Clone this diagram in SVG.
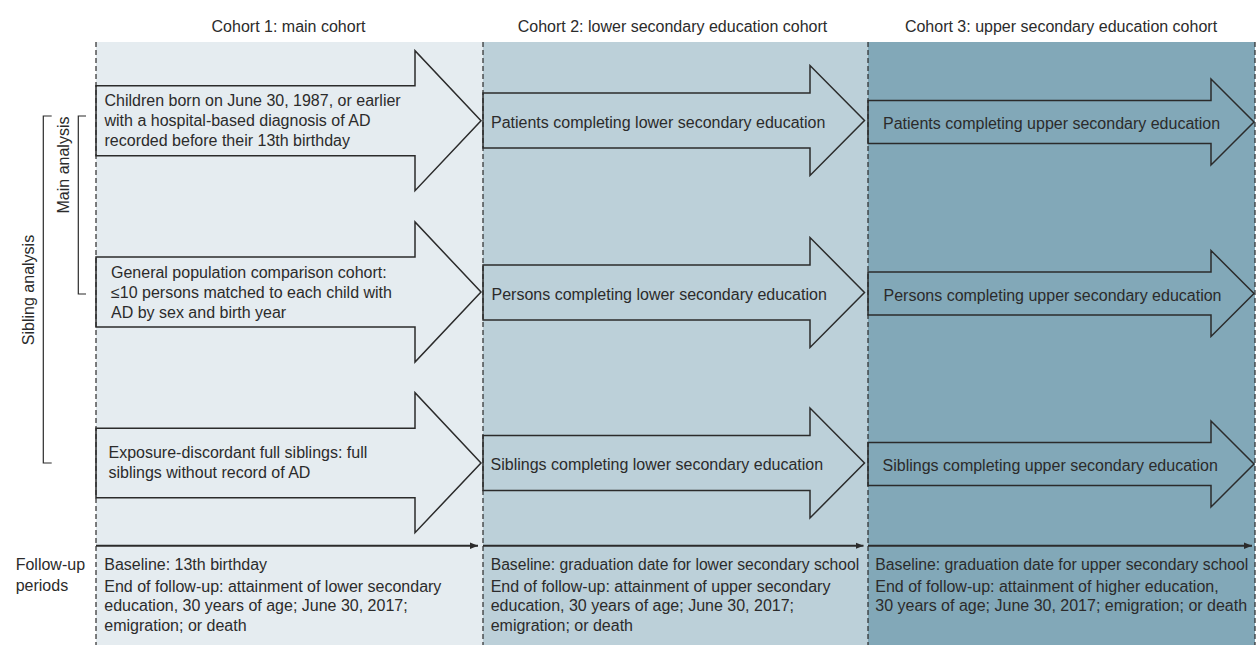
<svg xmlns="http://www.w3.org/2000/svg" width="1257" height="661" viewBox="0 0 1257 661">
<style>
  text { font-family: "Liberation Sans", Arial, sans-serif; font-size: 16px; fill: #2b2b2b; }
  .hdr { text-anchor: middle; }
  .p1 { fill: #e5ecf0; }
  .p2 { fill: #bcd0d9; }
  .p3 { fill: #82a8b8; }
  .arrow { stroke: #2b2b2b; stroke-width: 1.5; stroke-linejoin: miter; }
  .dash { stroke: #2b2b2b; stroke-width: 1.2; stroke-dasharray: 5 3; fill: none; }
  .brk { stroke: #2b2b2b; stroke-width: 1.2; fill: none; }
  .fu { stroke: #2b2b2b; stroke-width: 2; fill: none; marker-end: url(#ah); }
</style>
<defs>
  <marker id="ah" markerWidth="10" markerHeight="8" refX="8" refY="4" orient="auto" markerUnits="userSpaceOnUse">
    <path d="M0,0.8 L8,4 L0,7.2 Z" fill="#2b2b2b"/>
  </marker>
</defs>

<!-- panels -->
<g id="panels">
  <rect class="p1" x="96" y="42" width="387" height="603"/>
  <rect class="p2" x="483" y="42" width="385" height="603"/>
  <rect class="p3" x="868" y="42" width="387" height="603"/>
</g>

<!-- headers -->
<g id="headers">
  <text class="hdr" x="288.5" y="32">Cohort 1: main cohort</text>
  <text class="hdr" x="672.5" y="32">Cohort 2: lower secondary education cohort</text>
  <text class="hdr" x="1061" y="32">Cohort 3: upper secondary education cohort</text>
</g>

<!-- Cohort 1 arrows -->
<g id="c1-patients">
  <polygon class="arrow p1" points="96,85.7 415,85.7 415,50.7 481,120.7 415,190.7 415,155.7 96,155.7"/>
  <text x="104.5" y="105.5">Children born on June 30, 1987, or earlier</text>
  <text x="104.5" y="125.5">with a hospital-based diagnosis of AD</text>
  <text x="104.5" y="145.5">recorded before their 13th birthday</text>
</g>
<g id="c1-comparison">
  <polygon class="arrow p1" points="96,257 415,257 415,222 481,292 415,362 415,327 96,327"/>
  <text x="111" y="278.3">General population comparison cohort:</text>
  <text x="111" y="298.3">≤10 persons matched to each child with</text>
  <text x="111" y="318.3">AD by sex and birth year</text>
</g>
<g id="c1-siblings">
  <polygon class="arrow p1" points="96,428.3 415,428.3 415,392.7 481,463 415,532.7 415,497.7 96,497.7"/>
  <text x="108.5" y="458.3">Exposure-discordant full siblings: full</text>
  <text x="108.5" y="478">siblings without record of AD</text>
</g>

<!-- Cohort 2 arrows -->
<g id="c2-patients">
  <polygon class="arrow p2" points="483,93 810,93 810,65.5 864.5,120.5 810,175.5 810,148 483,148"/>
  <text x="491" y="127.5">Patients completing lower secondary education</text>
</g>
<g id="c2-persons">
  <polygon class="arrow p2" points="483,265 810,265 810,237.5 864.5,292.5 810,347.5 810,320 483,320"/>
  <text x="491.5" y="299.5">Persons completing lower secondary education</text>
</g>
<g id="c2-siblings">
  <polygon class="arrow p2" points="483,435.5 810,435.5 810,408 864.5,463 810,518 810,490.5 483,490.5"/>
  <text x="490.5" y="470">Siblings completing lower secondary education</text>
</g>

<!-- Cohort 3 arrows -->
<g id="c3-patients">
  <polygon class="arrow p3" points="868,100.5 1211,100.5 1211,79 1254,122 1211,165 1211,143.5 868,143.5"/>
  <text x="883" y="128.5">Patients completing upper secondary education</text>
</g>
<g id="c3-persons">
  <polygon class="arrow p3" points="868,272 1211,272 1211,250.5 1254,293.5 1211,336.5 1211,315 868,315"/>
  <text x="883.5" y="300.5">Persons completing upper secondary education</text>
</g>
<g id="c3-siblings">
  <polygon class="arrow p3" points="868,442.5 1211,442.5 1211,421 1254,464 1211,507 1211,485.5 868,485.5"/>
  <text x="882.5" y="470.5">Siblings completing upper secondary education</text>
</g>

<!-- dashed dividers -->
<g id="dividers">
  <line class="dash" x1="96" y1="42" x2="96" y2="645"/>
  <line class="dash" x1="483" y1="42" x2="483" y2="645"/>
  <line class="dash" x1="868" y1="42" x2="868" y2="645"/>
  <line class="dash" x1="1255" y1="42" x2="1255" y2="645"/>
</g>

<!-- analysis brackets -->
<g id="sibling-analysis">
  <path class="brk" d="M51.7,116 H43.3 V463 H51.7"/>
  <text class="hdr" transform="translate(33.5,290) rotate(-90)">Sibling analysis</text>
</g>
<g id="main-analysis">
  <path class="brk" d="M86,116 H78.3 V294 H86"/>
  <text class="hdr" transform="translate(68.5,165) rotate(-90)">Main analysis</text>
</g>

<!-- follow-up connectors -->
<g id="connectors">
  <line class="fu" x1="96" y1="545.7" x2="478" y2="545.7"/>
  <line class="fu" x1="483" y1="545.7" x2="863.5" y2="545.7"/>
  <line class="fu" x1="868" y1="545.7" x2="1252" y2="545.7"/>
</g>

<!-- follow-up texts -->
<g id="followup-label">
  <text x="15.7" y="569.5">Follow-up</text>
  <text x="15.7" y="590.5">periods</text>
</g>
<g id="followup-c1">
  <text x="104.3" y="569.5">Baseline: 13th birthday</text>
  <text x="104.3" y="591.5">End of follow-up: attainment of lower secondary</text>
  <text x="104.3" y="611">education, 30 years of age; June 30, 2017;</text>
  <text x="104.3" y="630.5">emigration; or death</text>
</g>
<g id="followup-c2">
  <text x="490.7" y="569.5" textLength="368.5" lengthAdjust="spacingAndGlyphs">Baseline: graduation date for lower secondary school</text>
  <text x="490.7" y="591.5">End of follow-up: attainment of upper secondary</text>
  <text x="490.7" y="611">education, 30 years of age; June 30, 2017;</text>
  <text x="490.7" y="630.5">emigration; or death</text>
</g>
<g id="followup-c3">
  <text x="875.3" y="569.5" textLength="373" lengthAdjust="spacingAndGlyphs">Baseline: graduation date for upper secondary school</text>
  <text x="875.3" y="591.5">End of follow-up: attainment of higher education,</text>
  <text x="875.3" y="611">30 years of age; June 30, 2017; emigration; or death</text>
</g>
</svg>
